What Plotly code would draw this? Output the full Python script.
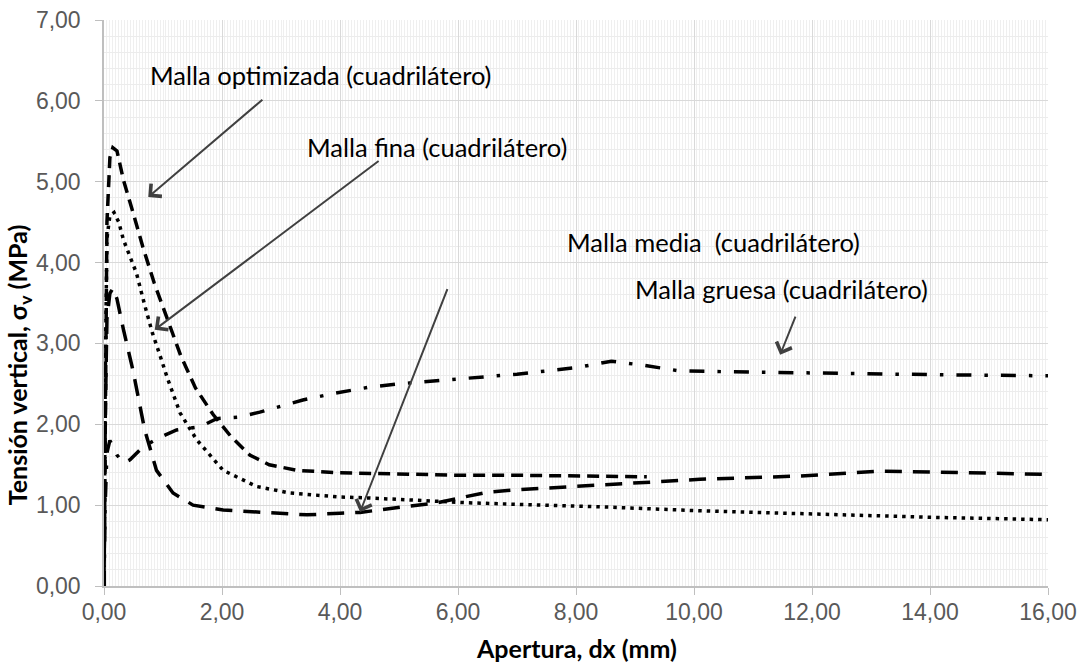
import plotly.graph_objects as go

# ---- data ----
opt_x = [0, 0.02, 0.05, 0.1, 0.15, 0.22, 0.33, 0.5, 0.66, 0.85, 1.07, 1.3, 1.55, 1.85, 2.15, 2.47, 2.8, 3.27, 4.0, 5.0, 6.0, 7.0, 8.0, 8.9, 9.2]
opt_y = [0, 2.5, 4.5, 5.3, 5.42, 5.38, 5.02, 4.6, 4.19, 3.75, 3.3, 2.85, 2.45, 2.12, 1.85, 1.62, 1.5, 1.43, 1.40, 1.38, 1.37, 1.37, 1.36, 1.35, 1.35]

fina_x = [0, 0.02, 0.05, 0.1, 0.17, 0.25, 0.33, 0.45, 0.55, 0.68, 0.82, 0.95, 1.07, 1.29, 1.57, 2.02, 2.59, 3.15, 4.0, 4.45, 5.0, 6.15, 7.0, 8.4, 10.1, 12.0, 14.0, 16.0]
fina_y = [0, 2.5, 4.3, 4.58, 4.62, 4.5, 4.28, 4.05, 3.87, 3.5, 3.13, 2.85, 2.58, 2.14, 1.81, 1.43, 1.23, 1.15, 1.10, 1.09, 1.07, 1.03, 1.01, 0.98, 0.93, 0.89, 0.85, 0.82]

media_x = [0, 0.02, 0.05, 0.1, 0.15, 0.22, 0.33, 0.49, 0.69, 0.89, 1.17, 1.51, 2.02, 2.87, 3.44, 4.0, 4.34, 5.2, 5.65, 6.1, 6.5, 7.0, 7.45, 7.95, 8.4, 8.85, 9.3, 9.8, 10.1, 11.8, 13.15, 14.05, 16.0]
media_y = [0, 2.0, 3.3, 3.62, 3.68, 3.55, 3.17, 2.67, 1.93, 1.43, 1.15, 1.0, 0.94, 0.9, 0.88, 0.9, 0.91, 0.99, 1.03, 1.1, 1.16, 1.19, 1.21, 1.23, 1.25, 1.27, 1.29, 1.31, 1.32, 1.36, 1.42, 1.41, 1.38]

gruesa_x = [0, 0.02, 0.05, 0.1, 0.15, 0.22, 0.33, 0.44, 0.66, 0.95, 1.23, 1.63, 1.91, 2.3, 2.64, 2.93, 3.37, 3.88, 4.5, 5.0, 6.0, 7.0, 8.0, 8.6, 9.14, 9.76, 10.56, 11.34, 12.08, 14.4, 16.0]
gruesa_y = [0, 1.0, 1.65, 1.8, 1.72, 1.62, 1.52, 1.56, 1.72, 1.84, 1.93, 1.97, 2.07, 2.09, 2.15, 2.21, 2.30, 2.38, 2.46, 2.50, 2.56, 2.62, 2.70, 2.78, 2.73, 2.66, 2.65, 2.64, 2.63, 2.61, 2.60]

labels = ["Malla optimizada (cuadrilátero)", "Malla fina (cuadrilátero)",
          "Malla media\u00a0 (cuadrilátero)", "Malla gruesa (cuadrilátero)"]

x_ticks = [0, 2, 4, 6, 8, 10, 12, 14, 16]
y_ticks = [0, 1, 2, 3, 4, 5, 6, 7]

x_title = "<b>Apertura, dx (mm)</b>"
y_title = "<b>Tensión vertical, σ<sub>v</sub> (MPa)</b>"

fig = go.Figure()
fig.add_trace(go.Scatter(x=opt_x, y=opt_y, mode="lines", name=labels[0],
                         line=dict(color="black", width=3.5, dash="12px,7px")))
fig.add_trace(go.Scatter(x=fina_x, y=fina_y, mode="lines", name=labels[1],
                         line=dict(color="black", width=3.5, dash="3.5px,5px")))
fig.add_trace(go.Scatter(x=media_x, y=media_y, mode="lines", name=labels[2],
                         line=dict(color="black", width=3.5, dash="17px,11px")))
fig.add_trace(go.Scatter(x=gruesa_x, y=gruesa_y, mode="lines", name=labels[3],
                         line=dict(color="black", width=3.5, dash="15px,13px,3.5px,13px")))

FONT = "Lato"
TICKFONT = "Liberation Sans"
ann_font = dict(family=FONT, size=25.5, color="black")
# text labels
text_pos = [(0.746, 6.32), (3.41, 5.43), (7.81, 4.25), (8.97, 3.67)]
for t, (tx, ty) in zip(labels, text_pos):
    fig.add_annotation(x=tx, y=ty, xref="x", yref="y", text=t, showarrow=False,
                       xanchor="left", yanchor="middle", font=ann_font)

# arrows: (tip_x, tip_y, tail_x, tail_y)
arrows = [(0.75, 4.81, 2.71, 6.03), (0.86, 3.17, 4.68, 5.27),
          (4.34, 0.915, 5.83, 3.69), (11.46, 2.86, 11.73, 3.35)]
for (hx, hy, tx, ty) in arrows:
    fig.add_annotation(x=hx, y=hy, ax=tx, ay=ty, xref="x", yref="y", axref="x", ayref="y",
                       text="", showarrow=True, arrowhead=4, arrowsize=1.6, arrowwidth=2,
                       arrowcolor="#404040")

# axis titles as annotations (fixed positions)
fig.add_annotation(x=0.5, y=-0.1095, xref="paper", yref="paper", text=x_title, showarrow=False,
                   xanchor="center", yanchor="middle", font=dict(family=FONT, size=25, color="black"))
fig.add_annotation(x=-0.09, y=0.39, xref="paper", yref="paper", text=y_title, showarrow=False,
                   textangle=-90, xanchor="center", yanchor="middle",
                   font=dict(family=FONT, size=25, color="black"))

fig.update_layout(
    width=1085, height=664,
    margin=dict(l=104, r=37, t=20, b=78),
    paper_bgcolor="white", plot_bgcolor="white",
    separators=",.",
    showlegend=False,
    font=dict(family=FONT),
)
fig.update_xaxes(
    range=[0, 16], tickvals=x_ticks, tickformat=".2f", automargin=False,
    showgrid=True, gridcolor="#d9d9d9", gridwidth=1,
    minor=dict(dtick=0.05, showgrid=True, gridcolor="#efefef", gridwidth=1, ticks=""),
    showline=True, linecolor="#bfbfbf", linewidth=1.5,
    ticks="outside", ticklen=7, tickcolor="#bfbfbf",
    tickfont=dict(family=TICKFONT, size=23, color="#595959"),
    ticklabelstandoff=-2,
    zeroline=False,
)
fig.update_yaxes(
    range=[0, 7], tickvals=y_ticks, tickformat=".2f", automargin=False,
    showgrid=True, gridcolor="#d9d9d9", gridwidth=1,
    minor=dict(dtick=0.2, showgrid=True, gridcolor="#ececec", gridwidth=1, ticks=""),
    showline=True, linecolor="#bfbfbf", linewidth=1.5,
    ticks="outside", ticklen=7, tickcolor="#bfbfbf",
    tickfont=dict(family=TICKFONT, size=23, color="#595959"),
    ticklabelstandoff=10,
    zeroline=False,
)

fig.write_html("out.html")
